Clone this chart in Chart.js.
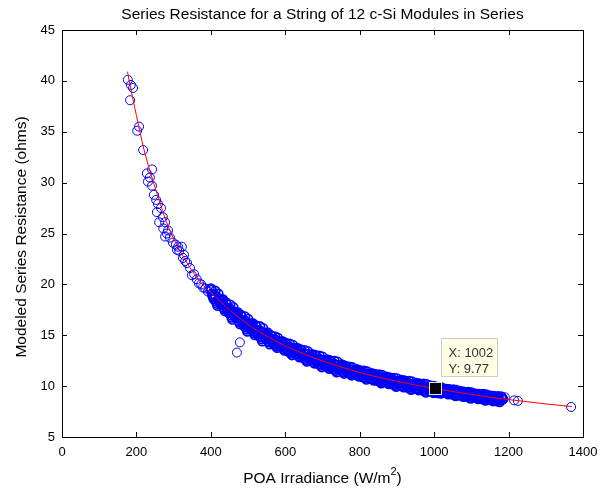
<!DOCTYPE html>
<html>
<head>
<meta charset="utf-8">
<title>Series Resistance</title>
<script src="https://cdn.jsdelivr.net/npm/chart.js@4.4.1/dist/chart.umd.min.js"></script>
<style>
  html, body { margin: 0; padding: 0; background: #fff; }
  #wrap { width: 610px; height: 491px; }
</style>
</head>
<body>
<div id="wrap"><canvas id="rsChart" width="610" height="491"></canvas></div>
<script>
const FONT = '"Liberation Sans", Arial, sans-serif';

const xTickValues = [0, 200, 400, 600, 800, 1000, 1200, 1400];
const yTickValues = [5, 10, 15, 20, 25, 30, 35, 40, 45];

// red fitted curve
const fitIrr = [176, 190, 200, 220, 240, 260, 280, 300, 325, 350, 375, 400, 450, 500, 550, 600, 650, 700, 750, 800, 850, 900, 950, 1000, 1100, 1200, 1300, 1370];
const fitRes = [40.9, 38.3, 36.6, 33.3, 30.7, 28.4, 26.2, 24.5, 22.8, 21.3, 20.1, 19.2, 17.5, 16.05, 14.92, 13.96, 13.17, 12.48, 11.88, 11.34, 10.88, 10.47, 10.11, 9.78, 9.18, 8.68, 8.25, 7.99];

// low irradiance points (sparse)
const lowIrr = [177, 183, 185, 191, 202, 207, 218, 228, 231, 236, 242, 242, 247, 253, 255, 258, 261, 266, 271, 272, 277, 277, 282, 285, 290, 298, 306, 309, 312, 315, 322, 325, 328, 331, 336, 344, 349, 355, 362, 368, 374, 379, 385, 392, 396];
const lowRes = [40.1, 38.1, 39.6, 39.3, 35.1, 35.5, 33.2, 30.9, 30.1, 30.5, 31.3, 29.7, 28.8, 28.3, 27.1, 27.9, 26.1, 27.5, 26.6, 25.5, 26.1, 24.7, 25.0, 25.3, 24.6, 24.1, 23.9, 23.4, 23.7, 23.3, 23.7, 22.6, 22.9, 22.3, 22.1, 21.6, 20.9, 21.0, 20.5, 20.1, 20.0, 19.7, 19.6, 19.3, 19.5];

// dense band, top row
const upperIrr = [400, 410, 420, 430, 440, 450, 460, 470, 480, 490, 500, 510, 520, 530, 540, 550,
  560, 570, 580, 590, 600, 610, 620, 630, 640, 650, 660, 670, 680, 690, 700, 710, 720, 730, 740, 750,
  760, 770, 780, 790, 800, 810, 820, 830, 840, 850, 860, 870, 880, 890, 900, 910, 920, 930, 940, 950, 960, 970, 980, 990, 1000,
  1010, 1020, 1030, 1040, 1050, 1060, 1070, 1080, 1090, 1100, 1110, 1120, 1130, 1140, 1150, 1160, 1170, 1180];
const upperRes = [19.60, 19.01, 19.07, 18.43, 18.24, 17.65, 17.75, 17.16, 17.02, 16.48, 16.60, 16.07, 15.99, 15.52, 15.69, 15.17,
  15.02, 14.63, 14.74, 14.35, 14.26, 13.90, 14.04, 13.69, 13.63, 13.27, 13.43, 13.09, 13.06, 12.72, 12.88, 12.56, 12.54, 12.22, 12.40, 12.08,
  11.99, 11.71, 11.84, 11.57, 11.56, 11.30, 11.44, 11.18, 11.19, 10.93, 11.08, 10.84, 10.85, 10.60, 10.75, 10.52, 10.55, 10.30, 10.46, 10.23, 10.26, 10.02, 10.19, 9.96, 10.00,
  9.74, 9.86, 9.68, 9.69, 9.50, 9.62, 9.44, 9.45, 9.26, 9.38, 9.21, 9.23, 9.05, 9.18, 9.01, 9.03, 8.85, 8.98];

// dense band, second row
const upperMidIrr = [402, 412, 422, 432, 442, 452, 462, 472, 482, 492, 502, 512, 522, 532, 542, 552,
  562, 572, 582, 592, 602, 612, 622, 632, 642, 652, 662, 672, 682, 692, 702, 712, 722, 732, 742, 752,
  762, 772, 782, 792, 802, 812, 822, 832, 842, 852, 862, 872, 882, 892, 902, 912, 922, 932, 942, 952, 962, 972, 982, 992, 1002,
  1012, 1022, 1032, 1042, 1052, 1062, 1072, 1082, 1092, 1102, 1112, 1122, 1132, 1142, 1152, 1162, 1172, 1182];
const upperMidRes = [19.45, 19.36, 18.62, 18.53, 18.09, 18.00, 17.30, 17.26, 16.87, 16.83, 16.15, 16.17, 15.84, 15.87, 15.24, 15.27,
  14.92, 14.88, 14.39, 14.40, 14.16, 14.15, 13.69, 13.74, 13.53, 13.52, 13.08, 13.14, 12.96, 12.97, 12.53, 12.61, 12.44, 12.47, 12.05, 12.13,
  11.92, 11.91, 11.58, 11.65, 11.49, 11.50, 11.18, 11.26, 11.12, 11.13, 10.82, 10.92, 10.78, 10.80, 10.49, 10.60, 10.48, 10.50, 10.20, 10.31, 10.19, 10.22, 9.93, 10.04, 9.93,
  9.90, 9.66, 9.72, 9.64, 9.66, 9.42, 9.48, 9.40, 9.42, 9.18, 9.25, 9.18, 9.21, 8.98, 9.05, 8.98, 9.01, 8.78];

// dense band, third row
const midIrr = [403, 413, 423, 433, 443, 453, 463, 473, 483, 493, 503, 513, 523, 533, 543, 553,
  563, 573, 583, 593, 603, 613, 623, 633, 643, 653, 663, 673, 683, 693, 703, 713, 723, 733, 743, 753,
  763, 773, 783, 793, 803, 813, 823, 833, 843, 853, 863, 873, 883, 893, 903, 913, 923, 933, 943, 953, 963, 973, 983, 993, 1003,
  1013, 1023, 1033, 1043, 1053, 1063, 1073, 1083, 1093, 1103, 1113, 1123, 1133, 1143, 1153, 1163, 1173, 1183];
const midRes = [19.05, 18.81, 18.27, 18.08, 17.69, 17.45, 16.95, 16.81, 16.47, 16.28, 15.80, 15.72, 15.44, 15.32, 14.89, 14.82,
  14.62, 14.53, 14.14, 14.10, 13.86, 13.80, 13.44, 13.44, 13.23, 13.17, 12.83, 12.84, 12.66, 12.62, 12.28, 12.31, 12.14, 12.12, 11.80, 11.83,
  11.69, 11.66, 11.41, 11.40, 11.26, 11.25, 11.01, 11.01, 10.89, 10.88, 10.65, 10.67, 10.55, 10.55, 10.32, 10.35, 10.25, 10.25, 10.03, 10.06, 9.96, 9.97, 9.76, 9.79, 9.70,
  9.72, 9.56, 9.57, 9.49, 9.48, 9.32, 9.33, 9.25, 9.24, 9.08, 9.10, 9.03, 9.03, 8.88, 8.90, 8.83, 8.83, 8.68];

// dense band, fourth row
const lowerMidIrr = [405, 415, 425, 435, 445, 455, 465, 475, 485, 495, 505, 515, 525, 535, 545, 555,
  565, 575, 585, 595, 605, 615, 625, 635, 645, 655, 665, 675, 685, 695, 705, 715, 725, 735, 745, 755,
  765, 775, 785, 795, 805, 815, 825, 835, 845, 855, 865, 875, 885, 895, 905, 915, 925, 935, 945, 955, 965, 975, 985, 995, 1005,
  1015, 1025, 1035, 1045, 1055, 1065, 1075, 1085, 1095, 1105, 1115, 1125, 1135, 1145, 1155, 1165, 1175, 1185];
const lowerMidRes = [18.85, 18.31, 18.42, 17.73, 17.49, 16.95, 17.10, 16.46, 16.27, 15.78, 15.95, 15.37, 15.24, 14.82, 15.04, 14.47,
  14.42, 14.08, 14.24, 13.80, 13.66, 13.35, 13.54, 13.14, 13.03, 12.72, 12.93, 12.54, 12.46, 12.17, 12.38, 12.01, 11.94, 11.67, 11.90, 11.53,
  11.55, 11.31, 11.48, 11.17, 11.12, 10.90, 11.08, 10.78, 10.75, 10.53, 10.72, 10.44, 10.41, 10.20, 10.39, 10.12, 10.11, 9.90, 10.10, 9.83, 9.82, 9.62, 9.83, 9.56, 9.56,
  9.47, 9.61, 9.40, 9.39, 9.23, 9.37, 9.16, 9.15, 8.99, 9.13, 8.93, 8.93, 8.78, 8.93, 8.73, 8.73, 8.58, 8.73];

// dense band, fifth row
const lowerIrr = [406, 416, 426, 436, 446, 456, 466, 476, 486, 496, 506, 516, 526, 536, 546, 556,
  566, 576, 586, 596, 606, 616, 626, 636, 646, 656, 666, 676, 686, 696, 706, 716, 726, 736, 746, 756,
  766, 776, 786, 796, 806, 816, 826, 836, 846, 856, 866, 876, 886, 896, 906, 916, 926, 936, 946, 956, 966, 976, 986, 996, 1006,
  1016, 1026, 1036, 1046, 1056, 1066, 1076, 1086, 1096, 1106, 1116, 1126, 1136, 1146, 1156, 1166, 1176];
const lowerRes = [18.75, 18.11, 18.22, 17.58, 17.39, 16.75, 16.90, 16.31, 16.17, 15.58, 15.75, 15.22, 15.14, 14.62, 14.84, 14.32,
  14.32, 13.93, 14.09, 13.65, 13.56, 13.20, 13.39, 12.99, 12.93, 12.57, 12.78, 12.39, 12.36, 12.02, 12.23, 11.86, 11.84, 11.52, 11.75, 11.38,
  11.45, 11.16, 11.34, 11.05, 11.02, 10.75, 10.94, 10.66, 10.65, 10.38, 10.58, 10.32, 10.31, 10.05, 10.25, 10.00, 10.01, 9.75, 9.96, 9.71, 9.72, 9.47, 9.69, 9.44, 9.46,
  9.34, 9.48, 9.30, 9.29, 9.10, 9.24, 9.06, 9.05, 8.86, 9.00, 8.83, 8.83, 8.65, 8.80, 8.63, 8.63, 8.45];

// dense band, bottom row
const bottomIrr = [408, 418, 428, 438, 448, 458, 468, 478, 488, 498, 508, 518, 528, 538, 548, 558,
  568, 578, 588, 598, 608, 618, 628, 638, 648, 658, 668, 678, 688, 698, 708, 718, 728, 738, 748, 758,
  768, 778, 788, 798, 808, 818, 828, 838, 848, 858, 868, 878, 888, 898, 908, 918, 928, 938, 948, 958, 968, 978, 988, 998, 1008,
  1018, 1028, 1038, 1048, 1058, 1068, 1078, 1088, 1098, 1108, 1118, 1128, 1138, 1148, 1158, 1168];
const bottomRes = [18.55, 17.91, 18.02, 17.38, 17.19, 16.55, 16.70, 16.11, 15.97, 15.38, 15.55, 15.02, 14.94, 14.42, 14.64, 14.12,
  14.17, 13.78, 13.89, 13.50, 13.41, 13.05, 13.19, 12.84, 12.78, 12.42, 12.58, 12.24, 12.21, 11.87, 12.03, 11.71, 11.69, 11.37, 11.55, 11.23,
  11.32, 11.06, 11.18, 10.95, 10.89, 10.65, 10.78, 10.56, 10.52, 10.28, 10.42, 10.22, 10.18, 9.95, 10.09, 9.90, 9.88, 9.65, 9.80, 9.61, 9.59, 9.37, 9.53, 9.34, 9.33,
  9.27, 9.36, 9.20, 9.19, 9.03, 9.12, 8.96, 8.95, 8.79, 8.88, 8.73, 8.73, 8.58, 8.68, 8.53, 8.53];

// outliers and high irradiance tail
const extraIrr = [470, 478, 1190, 1215, 1225, 1368];
const extraRes = [13.3, 14.3, 8.90, 8.60, 8.55, 7.95];

// data cursor
const tipX = 1002;
const tipY = 9.77;

function toPoints(xs, ys) {
    return xs.map((x, i) => ({ x: x, y: ys[i] }));
}

const sparsePoints = [].concat(
    toPoints(lowIrr, lowRes),
    toPoints(extraIrr, extraRes)
);

const bandPoints = [].concat(
    toPoints(upperIrr, upperRes),
    toPoints(upperMidIrr, upperMidRes),
    toPoints(midIrr, midRes),
    toPoints(lowerMidIrr, lowerMidRes),
    toPoints(lowerIrr, lowerRes),
    toPoints(bottomIrr, bottomRes)
);

const framePlugin = {
    id: "framePlugin",
    afterDraw(chart) {
        const { ctx, chartArea: a, scales } = chart;
        ctx.save();

        // axes box with inward ticks
        ctx.strokeStyle = "#000";
        ctx.lineWidth = 1;
        ctx.strokeRect(a.left + 0.5, a.top + 0.5, a.right - a.left, a.bottom - a.top);
        ctx.beginPath();
        xTickValues.forEach((v) => {
            const px = Math.round(scales.x.getPixelForValue(v)) + 0.5;
            ctx.moveTo(px, a.bottom);
            ctx.lineTo(px, a.bottom - 5);
            ctx.moveTo(px, a.top);
            ctx.lineTo(px, a.top + 5);
        });
        yTickValues.forEach((v) => {
            const py = Math.round(scales.y.getPixelForValue(v)) + 0.5;
            ctx.moveTo(a.left, py);
            ctx.lineTo(a.left + 5, py);
            ctx.moveTo(a.right, py);
            ctx.lineTo(a.right - 5, py);
        });
        ctx.stroke();

        // data cursor marker and box
        const px = scales.x.getPixelForValue(tipX);
        const py = scales.y.getPixelForValue(tipY);
        ctx.fillStyle = "#000";
        ctx.fillRect(Math.round(px) - 5, Math.round(py) - 5, 11, 11);
        ctx.strokeStyle = "#eeeac0";
        ctx.strokeRect(Math.round(px) - 5.5, Math.round(py) - 5.5, 12, 12);

        const bx = Math.round(px) + 6.5;
        const by = Math.round(py) - 49.5;
        ctx.fillStyle = "#ffffe6";
        ctx.fillRect(bx, by, 56, 38);
        ctx.strokeStyle = "#cfcfc4";
        ctx.strokeRect(bx, by, 56, 38);
        ctx.fillStyle = "#333";
        ctx.font = "13px " + FONT;
        ctx.textAlign = "left";
        ctx.textBaseline = "alphabetic";
        ctx.fillText("X: " + tipX, bx + 7, by + 18);
        ctx.fillText("Y: " + tipY, bx + 7, by + 34);

        // title
        const labelFont = "15.5px " + FONT;
        ctx.fillStyle = "#000";
        ctx.font = labelFont;
        ctx.textAlign = "center";
        ctx.textBaseline = "middle";
        const cx = (a.left + a.right) / 2;
        ctx.fillText("Series Resistance for a String of 12 c-Si Modules in Series", cx, 15);

        // x label with superscript
        const main = "POA Irradiance (W/m";
        const w1 = ctx.measureText(main).width;
        const w3 = ctx.measureText(")").width;
        ctx.font = "11px " + FONT;
        const w2 = ctx.measureText("2").width;
        const sx = cx - (w1 + w2 + w3) / 2;
        ctx.textAlign = "left";
        ctx.font = labelFont;
        ctx.fillText(main, sx, 479);
        ctx.font = "11px " + FONT;
        ctx.fillText("2", sx + w1, 472);
        ctx.font = labelFont;
        ctx.fillText(")", sx + w1 + w2, 479);

        // y label
        ctx.translate(22, 237);
        ctx.rotate(-Math.PI / 2);
        ctx.textAlign = "center";
        ctx.fillText("Modeled Series Resistance (ohms)", 0, 0);

        ctx.restore();
    }
};

new Chart(document.getElementById("rsChart"), {
    type: "scatter",
    data: {
        datasets: [
            {
                label: "Fit",
                data: toPoints(fitIrr, fitRes),
                showLine: true,
                borderColor: "#ff0000",
                borderWidth: 1,
                pointRadius: 0,
                cubicInterpolationMode: "monotone",
                order: 0
            },
            {
                label: "Modeled",
                data: sparsePoints,
                pointStyle: "circle",
                pointRadius: 4.5,
                borderColor: "#0000ff",
                backgroundColor: "rgba(0,0,0,0)",
                borderWidth: 1,
                order: 1
            },
            {
                label: "Modeled band",
                data: bandPoints,
                pointStyle: "circle",
                pointRadius: 4.5,
                borderColor: "#0000ff",
                backgroundColor: "rgba(0,0,0,0)",
                borderWidth: 1.6,
                order: 2
            }
        ]
    },
    options: {
        responsive: false,
        animation: false,
        events: [],
        layout: {
            padding: { top: 30, right: 27, left: 0, bottom: 0 }
        },
        plugins: {
            legend: { display: false },
            tooltip: { enabled: false },
            title: { display: false }
        },
        scales: {
            x: {
                type: "linear",
                min: 0,
                max: 1400,
                afterBuildTicks: (s) => { s.ticks = xTickValues.map((v) => ({ value: v })); },
                afterFit: (s) => { s.height = 54; },
                grid: { display: false, drawTicks: false },
                border: { display: false },
                ticks: {
                    color: "#000",
                    font: { family: FONT, size: 13 },
                    padding: 8,
                    autoSkip: false,
                    maxRotation: 0,
                    callback: (v) => String(v)
                }
            },
            y: {
                type: "linear",
                min: 5,
                max: 45,
                afterBuildTicks: (s) => { s.ticks = yTickValues.map((v) => ({ value: v })); },
                afterFit: (s) => { s.width = 62; },
                grid: { display: false, drawTicks: false },
                border: { display: false },
                ticks: {
                    color: "#000",
                    font: { family: FONT, size: 13 },
                    padding: 7,
                    autoSkip: false,
                    callback: (v) => String(v)
                }
            }
        }
    },
    plugins: [framePlugin]
});
</script>
</body>
</html>
